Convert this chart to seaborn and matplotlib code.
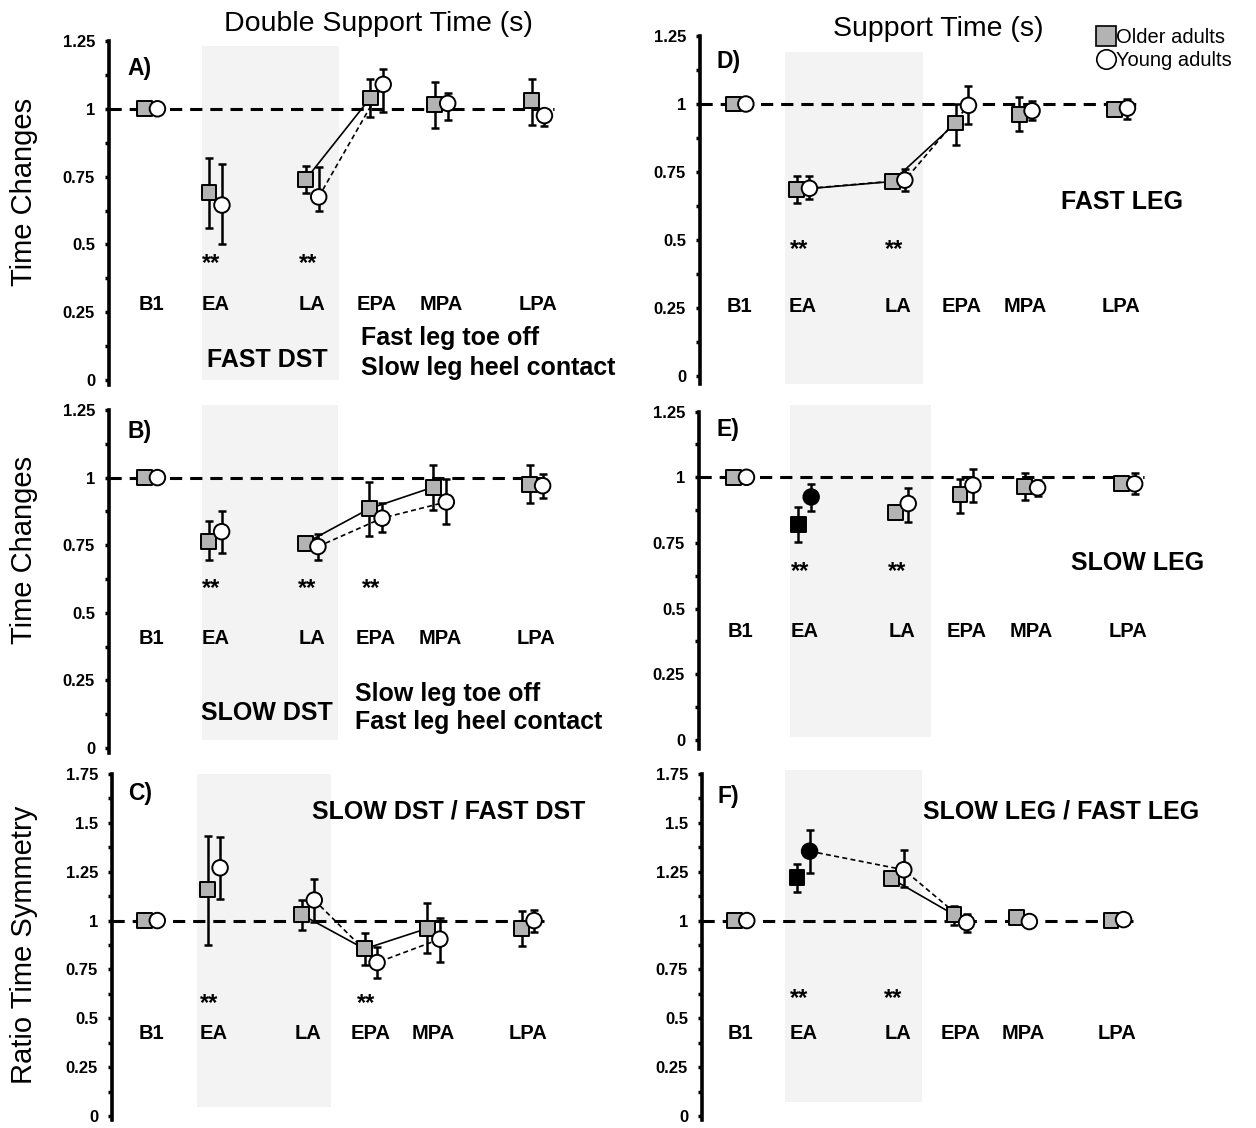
import pandas as pd
import seaborn as sns
import matplotlib.pyplot as plt
from matplotlib.ticker import MultipleLocator, FuncFormatter
from matplotlib.lines import Line2D

phases = ["B1", "EA", "LA", "EPA", "MPA", "LPA"]

# A) fast double support time
a_old = [1, 0.69, 0.74, 1.04, 1.015, 1.03]
a_old_lo = [1, 0.56, 0.69, 0.97, 0.93, 0.94]
a_old_hi = [1, 0.82, 0.79, 1.11, 1.10, 1.11]
a_yng = [1, 0.645, 0.675, 1.09, 1.02, 0.975]
a_yng_lo = [1, 0.50, 0.625, 0.99, 0.96, 0.935]
a_yng_hi = [1, 0.795, 0.785, 1.145, 1.06, 1.0]

# B) slow double support time
b_old = [1, 0.765, 0.757, 0.885, 0.965, 0.975]
b_old_lo = [1, 0.695, 0.74, 0.785, 0.88, 0.905]
b_old_hi = [1, 0.838, 0.775, 0.985, 1.047, 1.047]
b_yng = [1, 0.80, 0.745, 0.85, 0.91, 0.97]
b_yng_lo = [1, 0.72, 0.695, 0.797, 0.83, 0.926]
b_yng_hi = [1, 0.878, 0.792, 0.905, 0.994, 1.014]

# C) DST symmetry ratio
c_old = [1, 1.16, 1.03, 0.855, 0.96, 0.96]
c_old_lo = [1, 0.875, 0.95, 0.775, 0.835, 0.87]
c_old_hi = [1, 1.435, 1.105, 0.935, 1.09, 1.05]
c_yng = [1, 1.27, 1.105, 0.785, 0.905, 1.0]
c_yng_lo = [1, 1.11, 0.995, 0.705, 0.79, 0.94]
c_yng_hi = [1, 1.43, 1.215, 0.865, 1.015, 1.055]

# D) fast leg support time
d_old = [1, 0.685, 0.715, 0.93, 0.96, 0.98]
d_old_lo = [1, 0.635, 0.70, 0.85, 0.90, 0.965]
d_old_hi = [1, 0.735, 0.73, 1.0, 1.025, 0.995]
d_yng = [1, 0.69, 0.72, 0.995, 0.975, 0.985]
d_yng_lo = [1, 0.65, 0.68, 0.925, 0.94, 0.945]
d_yng_hi = [1, 0.735, 0.76, 1.065, 1.01, 1.02]

# E) slow leg support time
e_old = [1, 0.82, 0.865, 0.935, 0.965, 0.975]
e_old_lo = [1, 0.755, 0.845, 0.865, 0.915, 0.955]
e_old_hi = [1, 0.885, 0.88, 0.995, 1.015, 0.99]
e_yng = [1, 0.925, 0.90, 0.97, 0.96, 0.975]
e_yng_lo = [1, 0.87, 0.83, 0.905, 0.93, 0.935]
e_yng_hi = [1, 0.975, 0.96, 1.03, 0.99, 1.015]

# F) support time symmetry ratio
f_old = [1, 1.22, 1.215, 1.03, 1.015, 1.0]
f_old_lo = [1, 1.145, 1.19, 0.975, 1.015, 1.0]
f_old_hi = [1, 1.29, 1.24, 1.075, 1.015, 1.0]
f_yng = [1, 1.355, 1.26, 0.99, 0.995, 1.005]
f_yng_lo = [1, 1.245, 1.17, 0.94, 0.995, 1.005]
f_yng_hi = [1, 1.465, 1.36, 1.035, 0.995, 1.005]

data = {
    "A": (a_old, a_old_lo, a_old_hi, a_yng, a_yng_lo, a_yng_hi),
    "B": (b_old, b_old_lo, b_old_hi, b_yng, b_yng_lo, b_yng_hi),
    "C": (c_old, c_old_lo, c_old_hi, c_yng, c_yng_lo, c_yng_hi),
    "D": (d_old, d_old_lo, d_old_hi, d_yng, d_yng_lo, d_yng_hi),
    "E": (e_old, e_old_lo, e_old_hi, e_yng, e_yng_lo, e_yng_hi),
    "F": (f_old, f_old_lo, f_old_hi, f_yng, f_yng_lo, f_yng_hi),
}

# connected phases (older, young), significant phases, black-filled phases
links = {
    "A": (["LA", "EPA"], ["LA", "EPA"]),
    "B": (["LA", "EPA", "MPA"], ["LA", "EPA", "MPA"]),
    "C": (["LA", "EPA", "MPA"], ["LA", "EPA", "MPA"]),
    "D": (["EA", "LA", "EPA"], ["EA", "LA", "EPA"]),
    "E": ([], []),
    "F": (["LA", "EPA"], ["EA", "LA", "EPA"]),
}
stars = {"A": ["EA", "LA"], "B": ["EA", "LA", "EPA"], "C": ["EA", "EPA"],
         "D": ["EA", "LA"], "E": ["EA", "LA"], "F": ["EA", "LA"]}
filled = {"A": [], "B": [], "C": [], "D": [], "E": ["EA"], "F": ["EA"]}

# ---- layout (pixels of the 1256x1128 canvas) ----
W, H = 1256, 1128
xpos = dict(zip(phases, [0, 1, 2.5, 3.5, 4.5, 6]))
# spine_x, b1_x, unit, right_x, ytop value, ytop px, zero px, ybot
layout = {
    "A": (109, 151, 64.5, 630, 1.25, 41, 380, -0.02),
    "B": (109, 151, 64.2, 630, 1.25, 410, 748, -0.02),
    "C": (112, 151, 62.8, 630, 1.75, 774, 1116, -0.02),
    "D": (700, 739.5, 63.6, 1250, 1.25, 36, 376, -0.03),
    "E": (699, 740, 64.7, 1250, 1.25, 411.6, 740, -0.035),
    "F": (702, 740.5, 62.8, 1250, 1.75, 774, 1116, -0.02),
}
shade = {"A": (0.79, 2.91, 0.0, 1.23), "B": (0.79, 2.91, 0.03, 1.27),
         "C": (0.73, 2.86, 0.045, 1.75), "D": (0.71, 2.89, -0.03, 1.19),
         "E": (0.77, 2.95, 0.01, 1.275), "F": (0.71, 2.89, 0.07, 1.77)}
cat_y = {"A": 0.278, "B": 0.406, "C": 0.423, "D": 0.255, "E": 0.412, "F": 0.423}
star_y = {"A": 0.44, "B": 0.60, "C": 0.585, "D": 0.475, "E": 0.65, "F": 0.61}
letter_y = {"A": 1.147, "B": 1.17, "C": 1.65, "D": 1.156, "E": 1.18, "F": 1.635}
notes = {
    "A": [(1.81, 0.074, "FAST DST", "center"),
          (3.26, 0.155, "Fast leg toe off", "left"),
          (3.26, 0.044, "Slow leg heel contact", "left")],
    "B": [(1.80, 0.13, "SLOW DST", "center"),
          (3.17, 0.20, "Slow leg toe off", "left"),
          (3.17, 0.096, "Fast leg heel contact", "left")],
    "C": [(4.74, 1.56, "SLOW DST / FAST DST", "center")],
    "D": [(6.01, 0.64, "FAST LEG", "center")],
    "E": [(6.14, 0.673, "SLOW LEG", "center")],
    "F": [(5.10, 1.56, "SLOW LEG / FAST LEG", "center")],
}

GRAY = "#b3b3b3"
sns.set_theme(style="white")
plt.rcParams["font.family"] = ["Liberation Sans", "DejaVu Sans"]
plt.rcParams["text.color"] = "black"
plt.rcParams["axes.labelcolor"] = "black"
plt.rcParams["ytick.color"] = "black"
plt.rcParams["xtick.color"] = "black"

fig = plt.figure(figsize=(W / 100, H / 100), dpi=100)

for key in "ABCDEF":
    spine_x, b1_x, unit, right_x, ytop, ytop_px, zero_px, ybot = layout[key]
    scale = (zero_px - ytop_px) / ytop
    bottom_px = zero_px - ybot * scale
    ax = fig.add_axes([spine_x / W, 1 - bottom_px / H,
                       (right_x - spine_x) / W, (bottom_px - ytop_px) / H])
    ax.set_xlim((spine_x - b1_x) / unit, (right_x - b1_x) / unit)
    ax.set_ylim(ybot, ytop)
    ax.patch.set_alpha(0)

    old, old_lo, old_hi, yng, yng_lo, yng_hi = data[key]
    rows = []
    for i, ph in enumerate(phases):
        fill = "black" if ph in filled[key] else "gray"
        rows.append(dict(phase=ph, group="old", x=xpos[ph] - 0.1, mean=old[i],
                         lo=old_lo[i], hi=old_hi[i], fill=fill))
        rows.append(dict(phase=ph, group="yng", x=xpos[ph] + 0.1, mean=yng[i],
                         lo=yng_lo[i], hi=yng_hi[i],
                         fill="black" if fill == "black" else "white"))
    df = pd.DataFrame(rows)

    # shaded adaptation window
    x0, x1, y0, y1 = shade[key]
    ax.fill_between([x0, x1], y0, y1, color="#f3f3f3", lw=0, zorder=0,
                    clip_on=False)

    # reference line at 1
    ax.plot([ax.get_xlim()[0], 6.25], [1, 1], color="black", lw=2.2,
            ls=(0, (4, 2.6)), zorder=1)

    # connecting lines
    for grp, ls in (("old", "-"), ("yng", (0, (3, 2)))):
        sel = links[key][0] if grp == "old" else links[key][1]
        sub = df[(df.group == grp) & (df.phase.isin(sel))]
        if len(sub):
            sns.lineplot(data=sub, x="x", y="mean", color="black", lw=1.2,
                         ls=ls, ax=ax, zorder=2, legend=False)

    # error bars
    eb = df[df.hi > df.lo]
    ax.errorbar(eb.x, eb["mean"], yerr=[eb["mean"] - eb.lo, eb.hi - eb["mean"]],
                fmt="none", ecolor="black", elinewidth=1.8, capsize=3,
                capthick=1.8, zorder=3)

    # markers
    pal = {"gray": GRAY, "white": "white", "black": "black"}
    sns.scatterplot(data=df[df.group == "old"], x="x", y="mean", hue="fill",
                    palette=pal, marker="s", s=115, edgecolor="black",
                    linewidth=1.4, ax=ax, zorder=4, legend=False)
    sns.scatterplot(data=df[df.group == "yng"], x="x", y="mean", hue="fill",
                    palette=pal, marker="o", s=125, edgecolor="black",
                    linewidth=1.4, ax=ax, zorder=5, legend=False)

    # phase labels, asterisks, notes
    for ph in phases:
        ax.text(xpos[ph], cat_y[key], ph, ha="center", va="center",
                fontsize=14.5, fontweight="bold")
    for ph in stars[key]:
        ax.text(xpos[ph] - 0.07, star_y[key] - 0.01, "**", ha="center",
                va="center", fontsize=17, fontweight="bold")
    ax.text(-0.36, letter_y[key], key + ")", ha="left", va="center",
            fontsize=16.5, fontweight="bold")
    for nx, ny, txt, ha in notes[key]:
        ax.text(nx, ny, txt, ha=ha, va="center", fontsize=18,
                fontweight="bold", clip_on=False)

    # axis styling
    sns.despine(ax=ax, bottom=True)
    ax.spines["left"].set_linewidth(2.6)
    ax.spines["left"].set_color("black")
    ax.set_xticks([])
    ax.set_xlabel("")
    ax.set_ylabel("")
    ax.yaxis.set_major_locator(MultipleLocator(0.25))
    ax.yaxis.set_minor_locator(MultipleLocator(0.125))
    ax.yaxis.set_major_formatter(FuncFormatter(lambda v, p: f"{v:g}"))
    ax.tick_params(axis="y", which="both", direction="out", left=True,
                   length=3, width=2.5, color="black", labelcolor="black")
    ax.tick_params(axis="y", which="major", labelsize=12, pad=7)
    for lab in ax.get_yticklabels():
        lab.set_fontweight("bold")

# titles and y labels
fig.text(378 / W, 1 - 24 / H, "Double Support Time (s)", ha="center",
         va="center", fontsize=20.5)
fig.text(938 / W, 1 - 29 / H, "Support Time (s)", ha="center", va="center",
         fontsize=20.5)
fig.text(24 / W, 1 - 192 / H, "Time Changes", rotation=90, ha="center",
         va="center", fontsize=21)
fig.text(24 / W, 1 - 550 / H, "Time Changes", rotation=90, ha="center",
         va="center", fontsize=21)
fig.text(24 / W, 1 - 945 / H, "Ratio Time Symmetry", rotation=90, ha="center",
         va="center", fontsize=21)

# legend
handles = [Line2D([], [], ls="none", marker="s", ms=14, mfc=GRAY,
                  mec="black", mew=1.2),
           Line2D([], [], ls="none", marker="o", ms=14, mfc="white",
                  mec="black", mew=1.2)]
fig.legend(handles, ["Older adults", "Young adults"], loc="upper left",
           bbox_to_anchor=(1098 / W, 1 - 28 / H), frameon=False,
           fontsize=14.5, handlelength=0.8, handletextpad=0.1,
           labelspacing=0.2, borderpad=0, borderaxespad=0)

fig.savefig("out.png", dpi=100)
